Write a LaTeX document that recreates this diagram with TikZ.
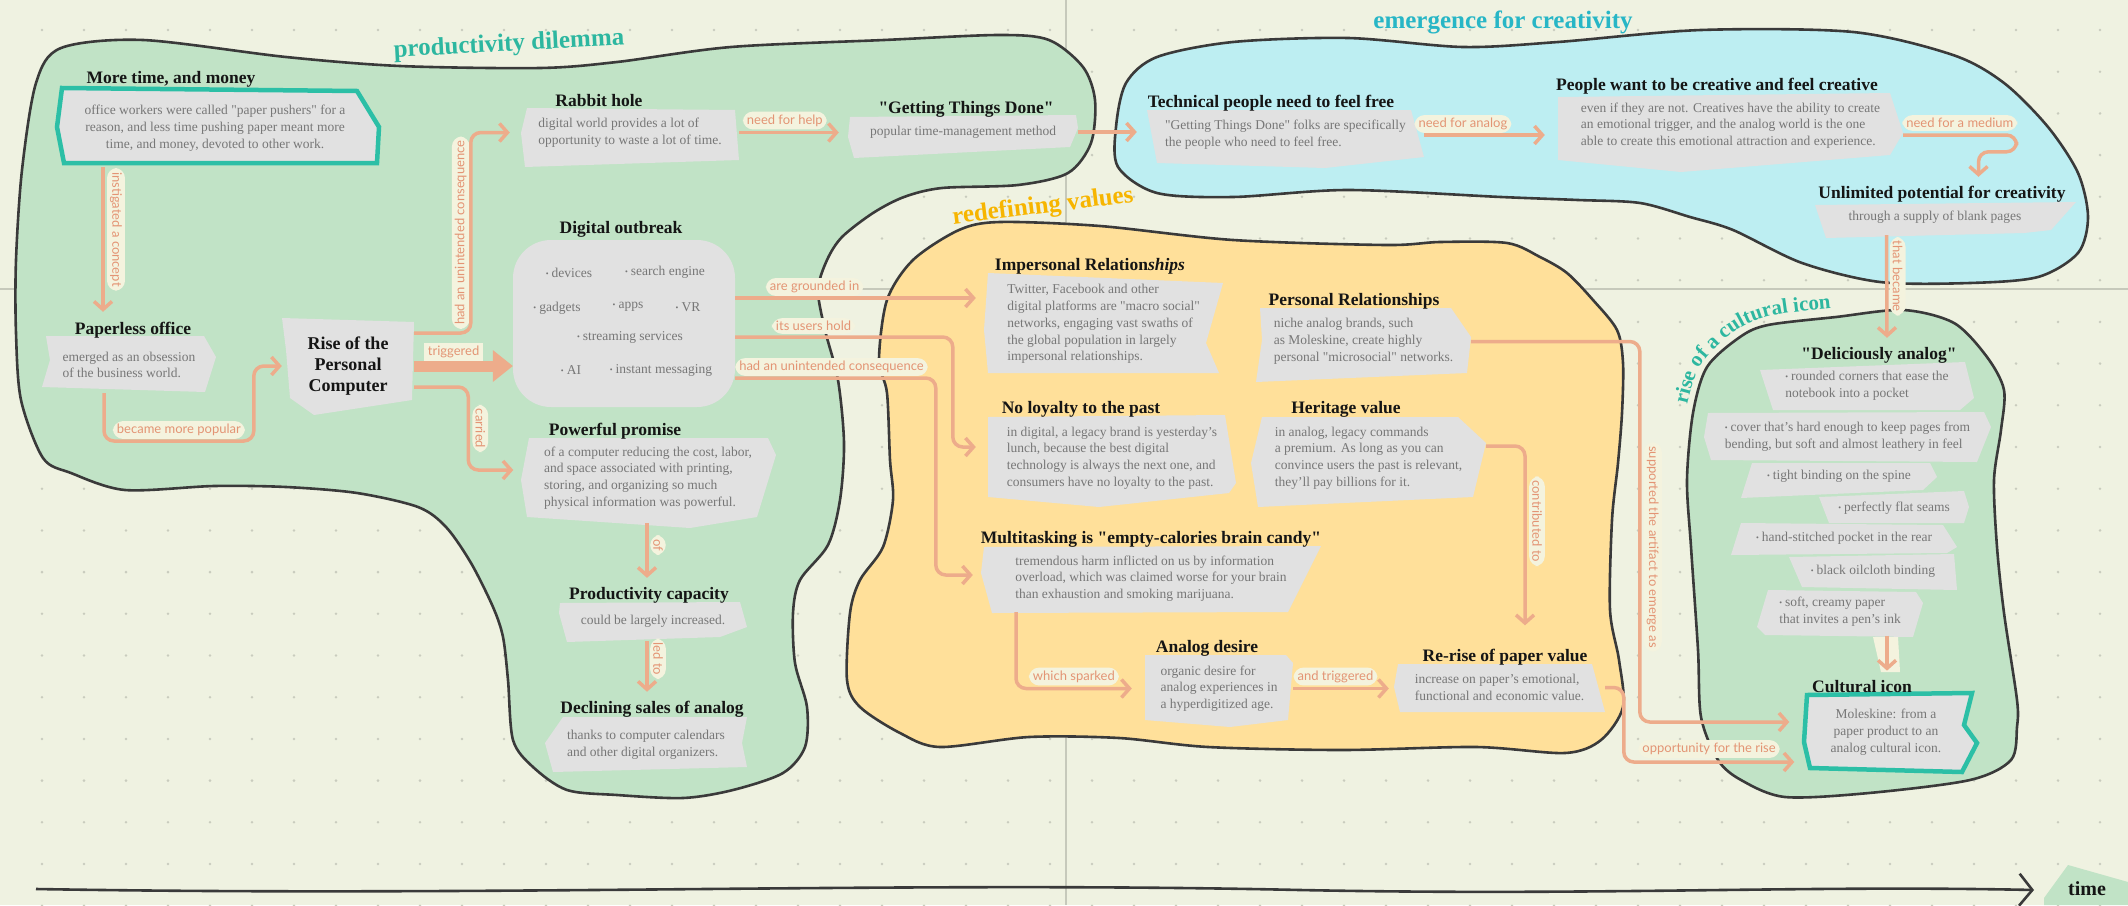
\documentclass[tikz,border=0pt]{standalone}
\usepackage{fontspec}
\setmainfont{Liberation Serif}[Ligatures=TeXOff]
\newfontfamily\labelfont{Lato}
\usetikzlibrary{positioning,arrows.meta,decorations.text}
\definecolor{cream}{HTML}{EFF2E1}
\definecolor{dotgrey}{HTML}{C9CCBE}
\definecolor{foldgrey}{HTML}{C6C9BB}
\definecolor{mint}{HTML}{C1E3C6}
\definecolor{sky}{HTML}{BDEEF2}
\definecolor{butter}{HTML}{FFE09A}
\definecolor{cardgrey}{HTML}{E1E1E1}
\definecolor{cardtext}{HTML}{777777}
\definecolor{ink}{HTML}{151515}
\definecolor{salmon}{HTML}{EDAC8B}
\definecolor{salmontext}{HTML}{E39474}
\definecolor{patch}{HTML}{F4F3DE}
\definecolor{teal}{HTML}{2CBFA6}
\definecolor{tealtitle}{HTML}{2DB7A0}
\definecolor{cyantitle}{HTML}{27B6C6}
\definecolor{gold}{HTML}{F7B500}
\definecolor{pencil}{HTML}{3A3A3A}
\newcommand{\blt}{\raisebox{1pt}{\fontsize{8}{8}\selectfont\textbullet}\hspace{3pt}}

\begin{document}
\begin{tikzpicture}[
  x=1pt, y=-1pt,
  card/.style n args={2}{
    minimum width=#1,
    minimum height=#2,
    inner sep=0pt,
    align=left,
    font=\fontsize{13.5}{16.8}\selectfont,
    text=cardtext,
  },
  item/.style = {
    inner sep=0pt,
    font=\fontsize{13.5}{16.8}\selectfont,
    text=cardtext,
  },
  ttl/.style = {
    inner sep=0pt,
    font=\fontsize{17.5}{20}\selectfont\bfseries,
    text=ink,
  },
  lbl/.style = {
    behind path,
    font=\labelfont\fontsize{13}{15}\selectfont,
    text=salmontext,
    fill=patch,
    inner xsep=4pt,
    inner ysep=3pt,
  },
  link/.style = {
    draw=salmon,
    line width=3.5pt,
    rounded corners=10pt,
    -{Straight Barb[length=8pt,width=18pt]},
  },
  bigarrow/.style = {
    draw=salmon,
    line width=11pt,
    -{Triangle[length=20pt,width=32pt,line width=0pt]},
  },
  sheet/.style = {fill=cardgrey},
  blob/.style = {draw=pencil, line width=2.6pt, line join=round},
  group/.style = {inner sep=0pt, font=\fontsize{25}{28}\selectfont\bfseries},
]

  \useasboundingbox (0,0) rectangle (2128,905);
  \fill[cream] (0,0) rectangle (2128,905);

  % dotted paper
  \foreach \i in {1,...,50}
    \foreach \j in {0,...,21}
      \fill[dotgrey] (42*\i,30+41.7*\j) circle (1.4);
  \draw[foldgrey, line width=2pt] (1066,0) -- (1066,905);
  \draw[foldgrey, line width=2pt] (0,289) -- (2128,289);

  % regions
  \path[fill=mint] plot[smooth cycle, tension=.5] coordinates {
    (36,83) (61,48) (143,40) (286,57) (400,66) (540,68) (617,62) (731,47)
    (884,40) (999,35) (1049,40) (1083,67) (1095,100) (1091,143) (1068,173)
    (1018,185) (942,188) (904,197) (873,213) (842,237) (827,260) (818,290)
    (825,330) (838,380) (844,443) (840,500) (828,545) (800,580) (793,613)
    (795,663) (807,707) (805,747) (783,773) (733,790) (683,798) (617,795)
    (567,790) (533,767) (513,740) (508,680) (503,637) (493,607) (471,563)
    (446,527) (418,507) (357,493) (286,487) (214,486) (125,490) (71,473)
    (43,458) (21,400) (16,333) (16,260) (22,170)};
  \path[fill=butter] plot[smooth cycle, tension=.5] coordinates {
    (959,230) (1000,222) (1100,226) (1233,240) (1386,245) (1440,242)
    (1507,243) (1540,257) (1567,273) (1593,300) (1617,330) (1623,363)
    (1622,413) (1618,463) (1612,520) (1610,610) (1619,660) (1623,707)
    (1601,740) (1565,753) (1476,747) (1342,750) (1208,747) (1119,738)
    (1029,737) (940,747) (900,733) (860,707) (847,680) (850,613) (860,580)
    (883,547) (893,500) (890,460) (887,393) (879,360) (887,300) (913,260)};
  \path[fill=sky] plot[smooth cycle, tension=.5] coordinates {
    (1116,127) (1126,83) (1157,57) (1233,42) (1348,38) (1463,47) (1558,42)
    (1701,30) (1853,32) (1953,55) (2004,83) (2048,127) (2078,173) (2088,217)
    (2078,253) (2038,277) (1970,283) (1880,282) (1802,263) (1733,230)
    (1690,217) (1640,203) (1578,200) (1501,197) (1348,190) (1233,197)
    (1157,193) (1118,167)};
  \path[fill=mint] plot[smooth cycle, tension=.5] coordinates {
    (1693,413) (1707,367) (1740,337) (1768,325) (1836,317) (1903,310)
    (1954,323) (1987,357) (2004,390) (2001,430) (1994,480) (1997,547)
    (2004,613) (2017,700) (2017,727) (2011,760) (1970,780) (1869,793)
    (1785,797) (1741,780) (1718,760) (1701,717) (1698,650) (1691,547)
    (1687,480)};

  \draw[blob] plot[smooth cycle, tension=.5] coordinates {
    (36,83) (61,48) (143,40) (286,57) (400,66) (540,68) (617,62) (731,47)
    (884,40) (999,35) (1049,40) (1083,67) (1095,100) (1091,143) (1068,173)
    (1018,185) (942,188) (904,197) (873,213) (842,237) (827,260) (818,290)
    (825,330) (838,380) (844,443) (840,500) (828,545) (800,580) (793,613)
    (795,663) (807,707) (805,747) (783,773) (733,790) (683,798) (617,795)
    (567,790) (533,767) (513,740) (508,680) (503,637) (493,607) (471,563)
    (446,527) (418,507) (357,493) (286,487) (214,486) (125,490) (71,473)
    (43,458) (21,400) (16,333) (16,260) (22,170)};
  \draw[blob] plot[smooth cycle, tension=.5] coordinates {
    (959,230) (1000,222) (1100,226) (1233,240) (1386,245) (1440,242)
    (1507,243) (1540,257) (1567,273) (1593,300) (1617,330) (1623,363)
    (1622,413) (1618,463) (1612,520) (1610,610) (1619,660) (1623,707)
    (1601,740) (1565,753) (1476,747) (1342,750) (1208,747) (1119,738)
    (1029,737) (940,747) (900,733) (860,707) (847,680) (850,613) (860,580)
    (883,547) (893,500) (890,460) (887,393) (879,360) (887,300) (913,260)};
  \draw[blob] plot[smooth cycle, tension=.5] coordinates {
    (1116,127) (1126,83) (1157,57) (1233,42) (1348,38) (1463,47) (1558,42)
    (1701,30) (1853,32) (1953,55) (2004,83) (2048,127) (2078,173) (2088,217)
    (2078,253) (2038,277) (1970,283) (1880,282) (1802,263) (1733,230)
    (1690,217) (1640,203) (1578,200) (1501,197) (1348,190) (1233,197)
    (1157,193) (1118,167)};
  \draw[blob] plot[smooth cycle, tension=.5] coordinates {
    (1693,413) (1707,367) (1740,337) (1768,325) (1836,317) (1903,310)
    (1954,323) (1987,357) (2004,390) (2001,430) (1994,480) (1997,547)
    (2004,613) (2017,700) (2017,727) (2011,760) (1970,780) (1869,793)
    (1785,797) (1741,780) (1718,760) (1701,717) (1698,650) (1691,547)
    (1687,480)};

  \node[group, text=tealtitle, rotate=3] (g-prod) at (509,45) {productivity dilemma};
  \node[group, text=cyantitle] (g-emer) at (1503,22) {emergence for creativity};
  \node[group, text=gold, rotate=7] (g-redef) at (1043,207) {redefining values};
  \path[decorate, decoration={text along path, text align=center, text color=tealtitle,
    text={|\fontsize{21}{24}\selectfont\bfseries|rise of a cultural icon}}]
    plot[smooth] coordinates {(1682,428) (1698,370) (1734,332) (1775,315) (1855,306)};

  % paper sheets
  \filldraw[sheet, draw=teal, line width=4.5pt] (62,88) -- (357,91) -- (379,127) -- (377,163) -- (64,163) -- (57,127) -- cycle;
  \fill[sheet] (46,336) -- (204,336) -- (216,357) -- (205,392) -- (42,387) -- (50,360) -- cycle;
  \fill[sheet] (282,318) -- (414,322) -- (412,400) -- (314,415) -- (290,398) -- (286,350) -- cycle;
  \fill[sheet] (527,108) -- (735,110) -- (739,160) -- (525,167) -- (521,133) -- cycle;
  \fill[sheet] (850,117) -- (1076,115) -- (1078,128) -- (1070,147) -- (854,158) -- (848,137) -- cycle;
  \fill[sheet] (529,438) -- (768,438) -- (776,455) -- (757,517) -- (690,528) -- (527,517) -- (521,480) -- cycle;
  \fill[sheet] (560,603) -- (740,602) -- (747,627) -- (720,637) -- (567,642) -- (559,613) -- cycle;
  \fill[sheet] (563,717) -- (747,717) -- (742,743) -- (747,767) -- (553,772) -- (545,743) -- cycle;
  \fill[sheet] (988,273) -- (1223,283) -- (1206,343) -- (1219,373) -- (988,373) -- (984,330) -- cycle;
  \fill[sheet] (1260,308) -- (1451,308) -- (1471,337) -- (1467,373) -- (1256,382) -- (1262,340) -- cycle;
  \fill[sheet] (988,417) -- (1225,415) -- (1236,483) -- (1229,493) -- (1099,507) -- (988,497) -- cycle;
  \fill[sheet] (1262,417) -- (1458,417) -- (1486,443) -- (1473,497) -- (1258,507) -- (1251,463) -- cycle;
  \fill[sheet] (984,547) -- (1321,546) -- (1288,612) -- (992,613) -- (981,573) -- cycle;
  \fill[sheet] (1145,655) -- (1286,655) -- (1293,663) -- (1288,720) -- (1230,727) -- (1145,720) -- cycle;
  \fill[sheet] (1398,664) -- (1592,664) -- (1605,712) -- (1400,712) -- (1394,687) -- cycle;
  \fill[sheet] (1147,110) -- (1411,110) -- (1424,157) -- (1325,168) -- (1157,163) -- cycle;
  \fill[sheet] (1558,97) -- (1890,93) -- (1903,133) -- (1890,155) -- (1681,172) -- (1558,160) -- cycle;
  \fill[sheet] (1815,205) -- (2076,202) -- (2051,230) -- (2024,233) -- (1826,238) -- cycle;
  \fill[sheet] (1760,370) -- (1965,362) -- (1974,398) -- (1960,410) -- (1773,410) -- cycle;
  \fill[sheet] (1708,413) -- (1984,412) -- (1991,427) -- (1977,462) -- (1711,460) -- (1704,437) -- cycle;
  \fill[sheet] (1752,463) -- (1930,463) -- (1937,477) -- (1923,490) -- (1741,498) -- cycle;
  \fill[sheet] (1819,497) -- (1964,491) -- (1969,507) -- (1964,523) -- (1829,523) -- cycle;
  \fill[sheet] (1741,523) -- (1943,525) -- (1957,547) -- (1947,553) -- (1731,555) -- cycle;
  \fill[sheet] (1789,557) -- (1954,554) -- (1957,590) -- (1802,587) -- cycle;
  \fill[sheet] (1768,590) -- (1916,592) -- (1923,603) -- (1913,637) -- (1765,635) -- (1757,627) -- cycle;
  \filldraw[sheet, draw=teal, line width=4.5pt] (1807,695) -- (1972,693) -- (1964,725) -- (1977,743) -- (1962,772) -- (1810,768) -- (1804,742) -- cycle;

  % productivity dilemma
  \node[ttl] (moretime-t) at (171,79) {More time, and money};
  \node[card={322pt}{77pt}, align=center] (moretime) at (215,128.5) {office workers were called "paper pushers" for a\\reason, and less time pushing paper meant more\\time, and money, devoted to other work.};
  \node[ttl] (paperless-t) at (133,330) {Paperless office};
  \node[card={174pt}{56pt}] (paperless) at (129,365) {emerged as an obsession\\of the business world.};
  \node[card={132pt}{97pt}, align=center, text=ink, font=\fontsize{18}{21}\selectfont\bfseries] (rise) at (348,366) {Rise of the\\Personal\\Computer};
  \node[ttl] (rabbit-t) at (599,101) {Rabbit hole};
  \node[card={218pt}{59pt}] (rabbit) at (630,132.5) {digital world provides a lot of\\opportunity to waste a lot of time.};
  \node[ttl] (gtd-t) at (966,109) {"Getting Things Done"};
  \node[card={230pt}{43pt}] (gtd) at (963,132) {popular time-management method};
  \node[ttl] (outbreak-t) at (621,229) {Digital outbreak};
  \node[fill=cardgrey, rounded corners=38pt, minimum width=222pt, minimum height=167pt, inner sep=0pt] (outbreak) at (624,323.5) {};
  \node[item] (devices) at (569,273) {\blt devices};
  \node[item] (search) at (665,272) {\blt search engine};
  \node[item] (gadgets) at (557,308) {\blt gadgets};
  \node[item] (apps) at (628,307) {\blt apps};
  \node[item] (vr) at (688,307) {\blt VR};
  \node[item] (streaming) at (630,337) {\blt streaming services};
  \node[item] (ai) at (571,370) {\blt AI};
  \node[item] (messaging) at (661,370) {\blt instant messaging};
  \node[ttl] (promise-t) at (615,431) {Powerful promise};
  \node[card={255pt}{90pt}] (promise) at (648,478) {of a computer reducing the cost, labor,\\and space associated with printing,\\storing, and organizing so much\\physical information was powerful.};
  \node[ttl] (capacity-t) at (649,595) {Productivity capacity};
  \node[card={188pt}{40pt}] (capacity) at (653,621) {could be largely increased.};
  \node[ttl] (declining-t) at (652,709) {Declining sales of analog};
  \node[card={202pt}{55pt}] (declining) at (646,744.5) {thanks to computer calendars\\and other digital organizers.};

  % redefining values
  \node[ttl] (impersonal-t) at (1090,266) {Impersonal Relation\textit{ships}};
  \node[card={239pt}{100pt}] (impersonal) at (1103.5,324) {Twitter, Facebook and other\\digital platforms are "macro social"\\networks, engaging vast swaths of\\the global population in largely\\impersonal relationships.};
  \node[ttl] (personal-t) at (1354,301) {Personal Relationships};
  \node[card={215pt}{74pt}] (personal) at (1363.5,341.5) {niche analog brands, such\\as Moleskine, create highly\\personal "microsocial" networks.};
  \node[ttl] (noloyalty-t) at (1081,409) {No loyalty to the past};
  \node[card={248pt}{92pt}] (noloyalty) at (1112,458) {in digital, a legacy brand is yesterday’s\\lunch, because the best digital\\technology is always the next one, and\\consumers have no loyalty to the past.};
  \node[ttl] (heritage-t) at (1346,409) {Heritage value};
  \node[card={235pt}{90pt}] (heritage) at (1368.5,458) {in analog, legacy commands\\a premium. As long as you can\\convince users the past is relevant,\\they’ll pay billions for it.};
  \node[ttl] (multitask-t) at (1151,539) {Multitasking is "empty-calories brain candy"};
  \node[card={340pt}{67pt}] (multitask) at (1151,578.5) {tremendous harm inflicted on us by information\\overload, which was claimed worse for your brain\\than exhaustion and smoking marijuana.};
  \node[ttl] (desire-t) at (1207,648) {Analog desire};
  \node[card={148pt}{72pt}] (desire) at (1219,688.5) {organic desire for\\analog experiences in\\a hyperdigitized age.};
  \node[ttl] (rerise-t) at (1505,657) {Re-rise of paper value};
  \node[card={211pt}{48pt}] (rerise) at (1499.5,687.5) {increase on paper’s emotional,\\functional and economic value.};

  % emergence for creativity
  \node[ttl] (technical-t) at (1271,103) {Technical people need to feel free};
  \node[card={277pt}{58pt}] (technical) at (1285.5,135) {"Getting Things Done" folks are specifically\\the people who need to feel free.};
  \node[ttl] (creative-t) at (1717,86) {People want to be creative and feel creative};
  \node[card={345pt}{79pt}] (creative) at (1730.5,125.5) {even if they are not. Creatives have the ability to create\\an emotional trigger, and the analog world is the one\\able to create this emotional attraction and experience.};
  \node[ttl] (unlimited-t) at (1942,194) {Unlimited potential for creativity};
  \node[card={261pt}{36pt}] (unlimited) at (1935,217) {through a supply of blank pages};

  % rise of a cultural icon
  \node[ttl] (delicious-t) at (1879,355) {"Deliciously analog"};
  \node[card={214pt}{48pt}] (b1) at (1867,385.5) {\blt rounded corners that ease the\\notebook into a pocket};
  \node[card={287pt}{50pt}] (b2) at (1847.5,436.5) {\blt cover that’s hard enough to keep pages from\\bending, but soft and almost leathery in feel};
  \node[card={196pt}{35pt}] (b3) at (1839,476) {\blt tight binding on the spine};
  \node[card={150pt}{32pt}] (b4) at (1894,508) {\blt perfectly flat seams};
  \node[card={226pt}{32pt}] (b5) at (1844,538) {\blt hand-stitched pocket in the rear};
  \node[card={168pt}{36pt}] (b6) at (1873,571) {\blt black oilcloth binding};
  \node[card={166pt}{47pt}] (b7) at (1840,612) {\blt soft, creamy paper\\that invites a pen’s ink};
  \node[ttl] (icon-t) at (1862,687) {Cultural icon};
  \node[card={173pt}{79pt}, align=center] (icon) at (1886,732) {Moleskine: from a\\paper product to an\\analog cultural icon.};

  % connectors
  \draw[link] ([xshift=-112pt]moretime.south) -- node[lbl, pos=.43, xshift=13pt, rotate=-90] {instigated a concept} ([shift={(-30pt,10pt)}]paperless-t.north);
  \draw[link] ([xshift=-25pt]paperless.south) |- node[lbl, pos=.75, yshift=11pt] {became more popular} ([shift={(-28pt,-75pt)}]rise.west) |- (rise.west);
  \draw[link] ([yshift=33pt]rise.east) -| node[lbl, pos=.75, xshift=-10pt, rotate=90] {had an unintended consequence} ([xshift=-50pt]rabbit.west) -- ([xshift=-11pt]rabbit.west);
  \draw[bigarrow] (rise.east) -- node[lbl, pos=.4, yshift=14pt] {triggered} (rise.east -| outbreak.west);
  \draw[link] ([yshift=-21pt]rise.east) -| node[lbl, pos=.75, xshift=12pt, rotate=-90] {carried} ([shift={(-52pt,8pt)}]promise.west) -- ([shift={(-7pt,8pt)}]promise.west);
  \draw[link, shorten >=9pt] (rabbit.east) -- node[lbl, pos=.42, yshift=12pt] {need for help} (rabbit.east -| gtd.west);
  \draw[link, shorten >=10pt] (gtd.east) -- (gtd.east -| technical.west);
  \draw[link] ([yshift=25.5pt]outbreak.east) -- node[lbl, pos=.33, yshift=11pt] {are grounded in} ([shift={(-8pt,26pt)}]impersonal.west);
  \draw[link] ([yshift=-13.5pt]outbreak.east) -| node[lbl, pos=.18, yshift=11pt] {its users hold} ([shift={(-35pt,11pt)}]noloyalty.west) -- ([shift={(-12pt,11pt)}]noloyalty.west);
  \draw[link] ([yshift=-54.5pt]outbreak.east) -| node[lbl, pos=.24, yshift=11pt] {had an unintended consequence} ([shift={(-45pt,3.5pt)}]multitask.west) -- ([shift={(-8pt,3.5pt)}]multitask.west);
  \draw[link] ([xshift=-1pt]promise.south) -- node[lbl, pos=.4, xshift=11pt, rotate=-90] {of} ([shift={(-2pt,9pt)}]capacity-t.north);
  \draw[link] ([xshift=-6pt]capacity.south) -- node[lbl, pos=.35, xshift=11pt, rotate=-90] {led to} ([shift={(-5pt,9pt)}]declining-t.north);
  \draw[link] ([xshift=-135pt]multitask.south) |- node[lbl, pos=.75, yshift=12pt] {which sparked} ([xshift=-13pt]desire.west);
  \draw[link, shorten >=5pt] (desire.east) -- node[lbl, pos=.42, yshift=12pt] {and triggered} (desire.east -| rerise.west);
  \draw[link] ([yshift=12pt]heritage.east) -| node[lbl, pos=.71, xshift=12pt, rotate=-90] {contributed to} ([shift={(25.5pt,38pt)}]rerise.north);
  \draw[link] (personal.east) -| node[lbl, pos=.77, xshift=13pt, rotate=-90] {supported the artifact to emerge as} ([shift={(-159.5pt,10pt)}]icon.west) -- ([shift={(-10pt,10pt)}]icon.west);
  \draw[link] (rerise.east) -| ([shift={(-175.5pt,-30pt)}]icon.west) -- node[lbl, midway, yshift=13pt] {opportunity for the rise} ([shift={(-5pt,-30pt)}]icon.west);
  \draw[link, shorten >=13pt] (technical.east) -- node[lbl, pos=.29, yshift=11pt] {need for analog} (technical.east -| creative.west);
  \draw[link] ([yshift=-9.5pt]creative.east) -| node[lbl, pos=.25, yshift=12pt] {need for a medium} ([shift={(81.5pt,47pt)}]unlimited.north) -| ([shift={(43.5pt,22pt)}]unlimited.north);
  \draw[link] ([xshift=-48.5pt]unlimited.south) -- node[lbl, pos=.4, xshift=11pt, rotate=-90] {that became} ([shift={(8pt,9pt)}]delicious-t.north);
  \fill[patch] (1873,637) -- (1898,637) -- (1900,672) -- (1881,672) -- cycle;
  \draw[link] ([xshift=47pt]b7.south) -- ([shift={(25pt,10pt)}]icon-t.north);

  % time axis
  \coordinate (tstart) at (36,889);
  \coordinate (tend) at (2034,890);
  \draw[draw=pencil, line width=2.6pt, -{Straight Barb[length=13pt,width=32pt]}] (tstart) .. controls (500,897) and (900,881) .. (1300,890) .. controls (1600,896) and (1800,885) .. (tend);
  \fill[mint] (2044,898) -- (2068,865) -- (2128,882) -- (2128,905) -- (2044,905) -- cycle;
  \node[inner sep=0pt, text=ink, font=\fontsize{20}{24}\selectfont\bfseries] (time) at (2087,889) {time};

\end{tikzpicture}
\end{document}
